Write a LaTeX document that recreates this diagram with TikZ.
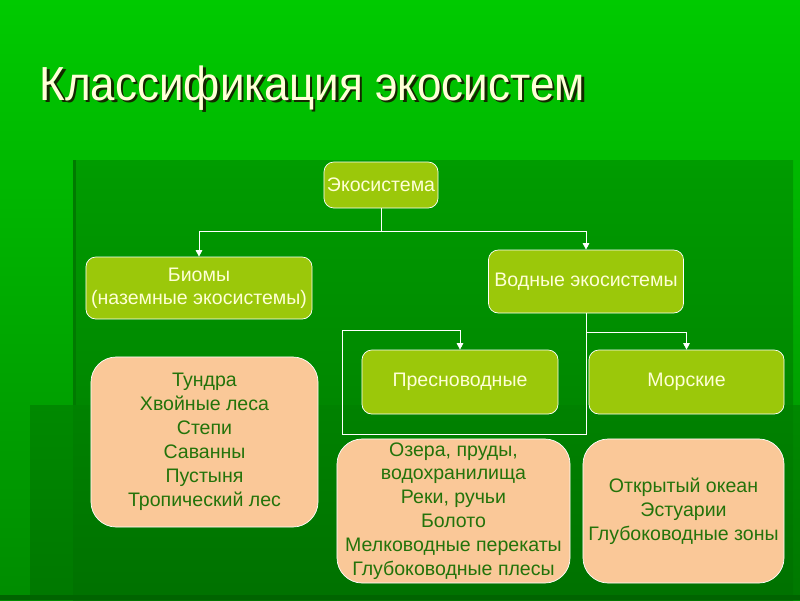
\documentclass[tikz,border=0pt]{standalone}
\usepackage{fontspec}
\setmainfont{Liberation Sans}
\usetikzlibrary{arrows.meta}
\definecolor{leaf}{RGB}{155,200,10}
\definecolor{peach}{RGB}{250,200,152}
\definecolor{ink}{RGB}{35,115,10}
\definecolor{cream}{RGB}{255,255,215}
\definecolor{skytop}{RGB}{0,202,0}
\definecolor{skybot}{RGB}{0,140,0}
\definecolor{paneltop}{RGB}{0,156,0}
\definecolor{panelbot}{RGB}{0,118,0}
\definecolor{edge}{RGB}{0,122,0}
\definecolor{lowtop}{RGB}{0,128,0}
\definecolor{lowbot}{RGB}{0,112,0}
\definecolor{floor}{RGB}{0,100,0}
\definecolor{shadowink}{RGB}{20,40,0}
\begin{document}
\begin{tikzpicture}[x=0.025cm,y=-0.025cm,>={Triangle[length=1.6mm,width=1.6mm]},
	greenbox/.style={draw=white,line width=0.5pt,fill=leaf,rounded corners=7pt,text=cream,align=center,inner sep=0pt,font=\fontsize{13.9}{16.5}\selectfont},
	peachbox/.style={draw=white,line width=0.5pt,fill=peach,rounded corners=18pt,text=ink,align=center,inner sep=0pt,font=\fontsize{13.9}{17}\selectfont},
	link/.style={draw=white,line width=0.6pt}]
	\useasboundingbox (0,0) rectangle (800,600);
	\shade[top color=skytop,bottom color=skybot] (0,0) rectangle (800,600);
	\shade[top color=paneltop,bottom color=panelbot] (73,160) rectangle (793,600);
	\fill[edge] (73,160) rectangle (76,405);
	\shade[top color=lowtop,bottom color=lowbot,opacity=0.7] (30,405) rectangle (800,595);
	\fill[floor] (0,595) rectangle (800,600);
	\node[anchor=base west,text=shadowink,font=\fontsize{34}{40}\selectfont,xscale=0.92] (shadow) at (37.5,102.5) {Классификация экосистем};
	\node[anchor=base west,text=cream,font=\fontsize{34}{40}\selectfont,xscale=0.92] (title) at (35,100) {Классификация экосистем};
	\node[greenbox,minimum width=2.85cm,minimum height=1.15cm] (eco) at (381,185) {Экосистема};
	\node[greenbox,minimum width=5.65cm,minimum height=1.55cm] (biom) at (199,288) {Биомы\\(наземные экосистемы)};
	\node[greenbox,minimum width=4.875cm,minimum height=1.575cm] (water) at (586,281.5) {Водные экосистемы};
	\node[greenbox,minimum width=4.9cm,minimum height=1.6cm] (fresh) at (460,382) {Пресноводные};
	\node[greenbox,minimum width=4.875cm,minimum height=1.6cm] (sea) at (686.5,382) {Морские};
	\node[peachbox,minimum width=5.675cm,minimum height=4.25cm] (land) at (204.5,442) {Тундра\\Хвойные леса\\Степи\\Саванны\\Пустыня\\Тропический лес};
	\node[peachbox,minimum width=5.825cm,minimum height=3.6cm] (lakes) at (453.5,511) {Озера, пруды,\\водохранилища\\Реки, ручьи\\Болото\\Мелководные перекаты\\Глубоководные плесы};
	\node[peachbox,minimum width=5.025cm,minimum height=3.6cm] (ocean) at (683.5,511) {Открытый океан\\Эстуарии\\Глубоководные зоны};
	\coordinate (lowbend) at (342,434);
	\coordinate (highbend) at (342,330);
	\draw[link,->] (eco.south) -- ++(0,23) -| (biom.north);
	\draw[link,->] (eco.south) -- ++(0,23) -| (water.north);
	\draw[link,->] (water.south) |- (lowbend) -- (highbend) -| (fresh.north);
	\draw[link,->] (water.south) -- ++(0,19) -| (sea.north);
\end{tikzpicture}
\end{document}
